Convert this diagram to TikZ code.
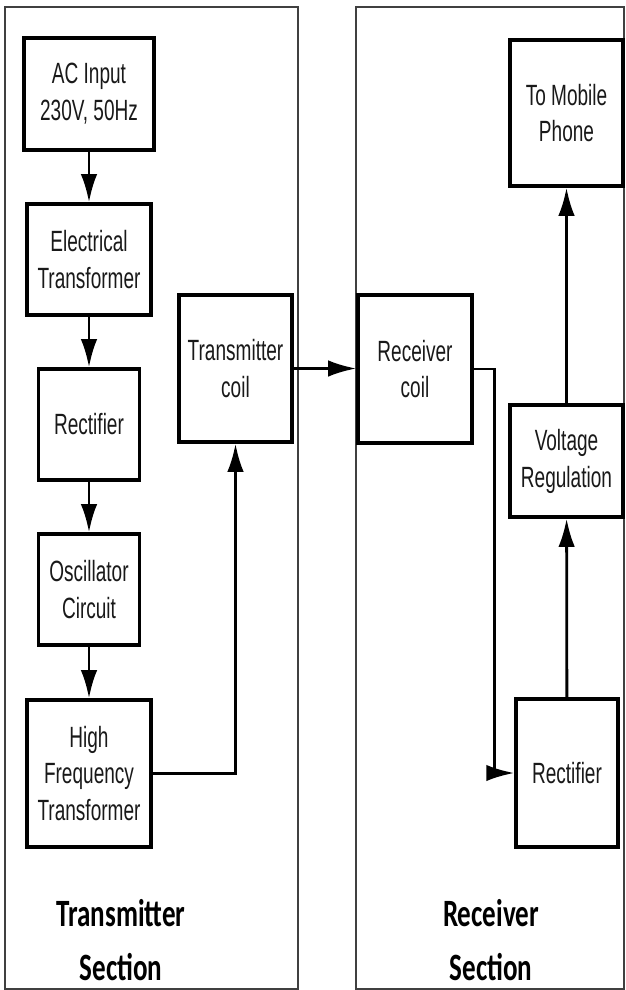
\documentclass[tikz,border=0pt]{standalone}
\usepackage{fontspec}
\usepackage{tikz}
\usetikzlibrary{arrows.meta,positioning}
\newfontfamily\boxfont[FakeStretch=0.65]{Liberation Sans}
\newfontfamily\sectfont[FakeStretch=0.7]{Carlito}

\begin{document}
\begin{tikzpicture}[x=0.3mm, y=-0.3mm, >={Latex[length=24pt,width=14pt]},
  block/.style={draw, line width=2.8pt, inner sep=0pt, align=center,
    font=\boxfont\fontsize{25}{31.5}\selectfont, text=black!90},
  link/.style={line width=2.4pt},
  sectframe/.style={draw=black!75, line width=1pt},
  secttitle/.style={align=center, font=\sectfont\bfseries\fontsize{33}{46}\selectfont}]
  \useasboundingbox (0,0) rectangle (625,990);
  \draw[sectframe] (5,7) rectangle (298,989);
  \draw[sectframe] (356,7) rectangle (624,989);

  \node[block, minimum width=3.9cm, minimum height=3.36cm] (acin) at (89,94) {AC Input\\230V, 50Hz};
  \node[block, minimum width=3.72cm, minimum height=3.33cm] (etrans) at (89,259.5) {Electrical\\Transformer};
  \node[block, minimum width=3.03cm, minimum height=3.33cm] (rectl) at (89,424.5) {Rectifier};
  \node[block, minimum width=3.03cm, minimum height=3.33cm] (osc) at (89,589.5) {Oscillator\\Circuit};
  \node[block, minimum width=3.72cm, minimum height=4.41cm] (hftr) at (89,773.5) {High\\Frequency\\Transformer};
  \node[block, minimum width=3.39cm, minimum height=4.41cm] (txcoil) at (235.5,368.5) {Transmitter\\coil};
  \node[block, minimum width=3.42cm, minimum height=4.44cm] (rxcoil) at (415,369) {Receiver\\coil};
  \node[block, minimum width=3.39cm, minimum height=4.38cm] (phone) at (566.5,113) {To Mobile\\Phone};
  \node[block, minimum width=3.39cm, minimum height=3.36cm] (vreg) at (566.5,461) {Voltage\\Regulation};
  \node[block, minimum width=3.06cm, minimum height=4.44cm] (rectr) at (567,773) {Rectifier};

  \node[secttitle] (txtitle) at (121,940) {Transmitter\\Section};
  \node[secttitle] (rxtitle) at (491,940) {Receiver\\Section};

  \draw[->, link] (acin) -- (etrans);
  \draw[->, link] (etrans) -- (rectl);
  \draw[->, link] (rectl) -- (osc);
  \draw[->, link] (osc) -- (hftr);
  \draw[->, link] (hftr.east) -| (txcoil.south);
  \draw[->, link] (txcoil.east) -- (rxcoil.west |- txcoil.east);
  \draw[->, link] (rxcoil.east) -- ++(21,0) |- (rectr.west);
  \draw[->, link] (rectr) -- (vreg);
  \draw[->, link] (vreg) -- (phone);
\end{tikzpicture}
\end{document}
